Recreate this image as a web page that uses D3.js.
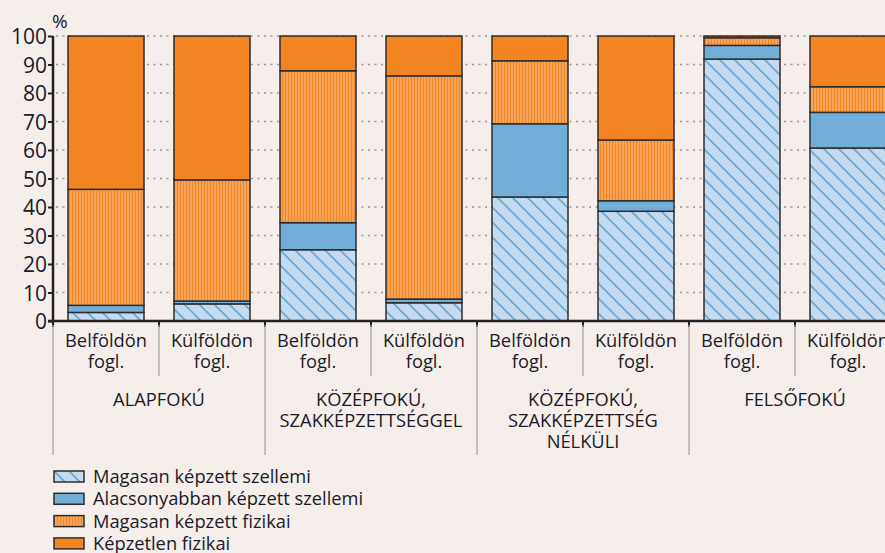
<!DOCTYPE html>
<html>
<head>
<meta charset="utf-8">
<script src="https://cdn.jsdelivr.net/npm/d3@7"></script>
<style>
  body { margin: 0; background: #f5eeeb; }
  svg { display: block; font-family: "Open Sans", sans-serif; }
</style>
</head>
<body>
<div id="chart"></div>
<script>
// data
var groups = ["ALAPFOKÚ", "KÖZÉPFOKÚ,|SZAKKÉPZETTSÉGGEL", "KÖZÉPFOKÚ,|SZAKKÉPZETTSÉG|NÉLKÜLI", "FELSŐFOKÚ"];
var subLabels = ["Belföldön|fogl.", "Külföldön|fogl."];
var seriesNames = ["Magasan képzett szellemi", "Alacsonyabban képzett szellemi", "Magasan képzett fizikai", "Képzetlen fizikai"];
var highMental = [3, 6, 25, 6.4, 43.5, 38.5, 91.9, 60.7];
var lowMental = [2.5, 1, 9.5, 1.3, 25.7, 3.7, 4.8, 12.5];
var highPhysical = [40.7, 42.5, 53.3, 78.3, 22.1, 21.3, 2.7, 9];
var unskilled = [53.8, 50.5, 12.2, 14, 8.7, 36.5, 0.6, 17.8];
var yTicks = [0, 10, 20, 30, 40, 50, 60, 70, 80, 90, 100];

var width = 885, height = 553;
var plotLeft = 53, plotRight = 901, plotTop = 36, plotBottom = 321;
var fontSize = 18.3;

var svg = d3.select("#chart").append("svg")
  .attr("width", width)
  .attr("height", height);

// patterns
var defs = svg.append("defs");
var hatch = defs.append("pattern")
  .attr("id", "hatch")
  .attr("patternUnits", "userSpaceOnUse")
  .attr("width", 15).attr("height", 15);
hatch.append("rect").attr("width", 15).attr("height", 15).attr("fill", "#c4dbef");
hatch.append("path")
  .attr("d", "M0,0 L15,15 M-3,12 L3,18 M12,-3 L18,3")
  .attr("stroke", "#6ea9d6").attr("stroke-width", 1.8);

var stripes = defs.append("pattern")
  .attr("id", "stripes")
  .attr("patternUnits", "userSpaceOnUse")
  .attr("width", 3).attr("height", 10);
stripes.append("rect").attr("width", 3).attr("height", 10).attr("fill", "#f28522");
stripes.append("rect").attr("x", 1.5).attr("width", 1).attr("height", 10).attr("fill", "#fbc391");

var fills = ["url(#hatch)", "#72aed8", "url(#stripes)", "#f28522"];

// bars table
var bars = highMental.map(function (d, i) {
  return { i: i, a: highMental[i], b: lowMental[i], c: highPhysical[i], d: unskilled[i] };
});
var stacked = d3.stack().keys(["a", "b", "c", "d"])(bars);

var x = d3.scaleBand()
  .domain(d3.range(bars.length))
  .range([plotLeft, plotRight])
  .paddingInner(30 / 106)
  .paddingOuter(15 / 106);

var y = d3.scaleLinear().domain([0, 100]).range([plotBottom, plotTop]);

// grid lines
svg.append("g")
  .selectAll("line")
  .data(yTicks.filter(function (d) { return d > 0; }))
  .enter().append("line")
  .attr("x1", plotLeft + 3).attr("x2", width)
  .attr("y1", function (d) { return y(d); })
  .attr("y2", function (d) { return y(d); })
  .attr("stroke", "#9a9a9a")
  .attr("stroke-width", 1.3)
  .attr("stroke-dasharray", "2,4.5");

// stacked bars
svg.append("g")
  .selectAll("g")
  .data(stacked)
  .enter().append("g")
  .attr("fill", function (d, k) { return fills[k]; })
  .selectAll("rect")
  .data(function (d) { return d; })
  .enter().append("rect")
  .attr("x", function (d, i) { return x(i); })
  .attr("width", x.bandwidth())
  .attr("y", function (d) { return y(d[1]); })
  .attr("height", function (d) { return y(d[0]) - y(d[1]); })
  .attr("stroke", "#2e2e2e")
  .attr("stroke-width", 1.5);

// y axis
var yAxis = svg.append("g")
  .attr("transform", "translate(" + plotLeft + ",0)")
  .call(d3.axisLeft(y).tickValues(yTicks).tickSize(5).tickPadding(1));
yAxis.select(".domain").attr("stroke", "#222").attr("stroke-width", 2.5)
  .attr("d", "M0," + (plotBottom + 2) + "V" + plotTop);
yAxis.selectAll(".tick line").attr("stroke", "#222").attr("stroke-width", 2);
yAxis.selectAll(".tick text")
  .attr("font-size", 21)
  .attr("dy", "0.38em")
  .attr("fill", "#1a1a2a")
  .attr("font-family", "Open Sans, sans-serif");

svg.append("text")
  .attr("x", plotLeft - 1).attr("y", 28)
  .attr("font-size", 19)
  .attr("fill", "#1a1a2a")
  .text("%");

// x axis line and ticks
var bounds = d3.range(bars.length + 1).map(function (i) { return plotLeft + i * x.step(); });
svg.append("line")
  .attr("x1", plotLeft - 5).attr("x2", width)
  .attr("y1", plotBottom).attr("y2", plotBottom)
  .attr("stroke", "#222").attr("stroke-width", 2.5);
svg.append("g").selectAll("line")
  .data(bounds)
  .enter().append("line")
  .attr("x1", function (d) { return d; }).attr("x2", function (d) { return d; })
  .attr("y1", plotBottom).attr("y2", plotBottom + 6)
  .attr("stroke", "#222").attr("stroke-width", 2);

// separators
svg.append("g").selectAll("line")
  .data(bounds)
  .enter().append("line")
  .attr("x1", function (d) { return d; }).attr("x2", function (d) { return d; })
  .attr("y1", plotBottom + 4)
  .attr("y2", function (d, i) { return i % 2 === 0 ? 455 : 376; })
  .attr("stroke", "#a8a8a8").attr("stroke-width", 1.3);

// sub labels
svg.append("g").selectAll("text")
  .data(bars)
  .enter().append("text")
  .attr("y", 347)
  .attr("text-anchor", "middle")
  .attr("font-size", fontSize)
  .attr("fill", "#1a1a2a")
  .each(function (d) {
    var t = d3.select(this);
    var cx = x(d.i) + x.bandwidth() / 2;
    subLabels[d.i % 2].split("|").forEach(function (l, k) {
      t.append("tspan").attr("x", cx).attr("dy", k === 0 ? 0 : 20.5).text(l);
    });
  });

// group labels
svg.append("g").selectAll("text")
  .data(groups)
  .enter().append("text")
  .attr("y", 406)
  .attr("text-anchor", "middle")
  .attr("font-size", fontSize)
  .attr("fill", "#1a1a2a")
  .each(function (d, g) {
    var t = d3.select(this);
    var cx = (bounds[g * 2] + bounds[g * 2 + 2]) / 2;
    d.split("|").forEach(function (l, k) {
      t.append("tspan").attr("x", cx).attr("dy", k === 0 ? 0 : 21).text(l);
    });
  });

// legend
var legend = svg.append("g")
  .selectAll("g")
  .data(seriesNames)
  .enter().append("g")
  .attr("transform", function (d, k) { return "translate(54," + (471 + k * 22.3) + ")"; });
legend.append("rect")
  .attr("width", 30).attr("height", 11)
  .attr("fill", function (d, k) { return fills[k]; })
  .attr("stroke", "#2e2e2e").attr("stroke-width", 1.5);
legend.append("text")
  .attr("x", 39).attr("y", 12)
  .attr("font-size", fontSize)
  .attr("fill", "#1a1a2a")
  .text(function (d) { return d; });
</script>
</body>
</html>
